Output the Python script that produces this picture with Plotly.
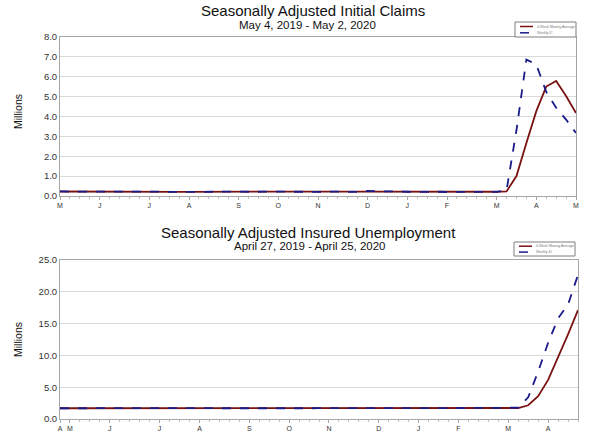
import plotly.graph_objects as go

W, H = 600, 434

# ---------------- data ----------------
ic_ticklabels = ["M", "J", "J", "A", "S", "O", "N", "D", "J", "F", "M", "A", "M"]
ic_tickweeks = [0, 4, 9, 13, 18, 22, 26, 31, 35, 39, 44, 48, 52]

ic_weekly = [0.228, 0.212, 0.211, 0.215, 0.218, 0.222, 0.216, 0.227, 0.221, 0.209,
             0.216, 0.206, 0.215, 0.209, 0.220, 0.210, 0.215, 0.217, 0.204, 0.208,
             0.213, 0.219, 0.210, 0.214, 0.212, 0.218, 0.211, 0.225, 0.227, 0.213,
             0.203, 0.252, 0.234, 0.222, 0.222, 0.214, 0.204, 0.223, 0.216, 0.201,
             0.205, 0.214, 0.219, 0.216, 0.211, 0.282, 3.307, 6.867, 6.615, 5.237,
             4.442, 3.846, 3.169]
ic_ma = [0.226, 0.222, 0.217, 0.216, 0.214, 0.217, 0.218, 0.221, 0.222, 0.218,
         0.218, 0.213, 0.212, 0.212, 0.215, 0.214, 0.214, 0.216, 0.212, 0.211,
         0.211, 0.211, 0.213, 0.214, 0.214, 0.214, 0.214, 0.217, 0.220, 0.219,
         0.217, 0.224, 0.226, 0.228, 0.233, 0.223, 0.216, 0.216, 0.214, 0.211,
         0.211, 0.209, 0.210, 0.214, 0.215, 0.232, 1.003, 2.667, 4.268, 5.507,
         5.790, 5.035, 4.174]

iu_ticklabels = ["A", "M", "J", "J", "A", "S", "O", "N", "D", "J", "F", "M", "A"]
iu_tickweeks = [0, 1, 5, 10, 14, 19, 23, 27, 32, 36, 40, 45, 49]

iu_weekly = [1.69, 1.68, 1.69, 1.68, 1.70, 1.69, 1.70, 1.69, 1.70, 1.71,
             1.69, 1.70, 1.71, 1.70, 1.69, 1.70, 1.69, 1.68, 1.69, 1.68,
             1.69, 1.70, 1.69, 1.70, 1.69, 1.69, 1.70, 1.71, 1.70, 1.69,
             1.70, 1.72, 1.73, 1.72, 1.72, 1.73, 1.74, 1.73, 1.72, 1.71,
             1.72, 1.71, 1.71, 1.70, 1.71, 1.70, 1.78, 3.41, 7.46, 11.98,
             15.82, 18.01, 22.65]
iu_ma = [1.69, 1.69, 1.69, 1.69, 1.69, 1.69, 1.69, 1.70, 1.70, 1.70,
         1.70, 1.70, 1.70, 1.70, 1.70, 1.70, 1.70, 1.69, 1.69, 1.69,
         1.69, 1.69, 1.69, 1.69, 1.69, 1.69, 1.69, 1.70, 1.70, 1.70,
         1.70, 1.70, 1.71, 1.72, 1.72, 1.72, 1.73, 1.73, 1.73, 1.72,
         1.72, 1.72, 1.71, 1.71, 1.71, 1.71, 1.73, 2.16, 3.60, 6.15,
         9.67, 13.32, 17.12]

legend_top = ["4-Week Moving Average", "Weekly IC"]
legend_bottom = ["4-Week Moving Average", "Weekly IU"]

weeks_ic = list(range(len(ic_weekly)))
weeks_iu = list(range(len(iu_weekly)))

SOLID = "#7a1212"
DASH = "#1a1a8a"
FONT = "Liberation Sans, Arial, sans-serif"


def py(p):
    return 1 - p / H


def px(p):
    return p / W


fig = go.Figure()
fig.add_trace(go.Scatter(x=weeks_ic, y=ic_ma, mode="lines", name=legend_top[0],
                         line=dict(color=SOLID, width=1.8), xaxis="x", yaxis="y"))
fig.add_trace(go.Scatter(x=weeks_ic, y=ic_weekly, mode="lines", name=legend_top[1],
                         line=dict(color=DASH, width=1.8, dash="dash"), xaxis="x", yaxis="y"))
fig.add_trace(go.Scatter(x=weeks_iu, y=iu_ma, mode="lines", name=legend_bottom[0],
                         line=dict(color=SOLID, width=1.8), xaxis="x2", yaxis="y2"))
fig.add_trace(go.Scatter(x=weeks_iu, y=iu_weekly, mode="lines", name=legend_bottom[1],
                         line=dict(color=DASH, width=1.8, dash="dash"), xaxis="x2", yaxis="y2"))

axis_common = dict(showline=True, linecolor="#a6a6a6", linewidth=1, mirror=True,
                   zeroline=False)

fig.update_layout(
    width=W, height=H,
    margin=dict(l=0, r=0, t=0, b=0, autoexpand=False),
    showlegend=False,
    paper_bgcolor="white", plot_bgcolor="white",
    font=dict(family=FONT, color="#333333"),
    xaxis=dict(domain=[px(60), px(576)], anchor="y", range=[0, 52],
               tickmode="array", tickvals=ic_tickweeks, ticktext=ic_ticklabels,
               ticks="outside", ticklen=3, tickcolor="#a6a6a6",
               minor=dict(dtick=1, tick0=0, ticks="outside", ticklen=2, tickcolor="#bfbfbf", showgrid=False),
               showgrid=False, tickfont=dict(size=7, color="#333333"), **axis_common),
    yaxis=dict(domain=[py(196), py(37)], anchor="x", range=[0, 8], dtick=1, tickformat=".1f",
               showgrid=True, gridcolor="#d9d9d9", ticks="", tickfont=dict(size=9.5, color="#333333"),
               **axis_common),
    xaxis2=dict(domain=[px(60), px(578)], anchor="y2", range=[0, 52],
                tickmode="array", tickvals=iu_tickweeks, ticktext=iu_ticklabels,
                ticks="outside", ticklen=3, tickcolor="#a6a6a6",
                minor=dict(dtick=1, tick0=0, ticks="outside", ticklen=2, tickcolor="#bfbfbf", showgrid=False),
                showgrid=False, tickfont=dict(size=7, color="#333333"), **axis_common),
    yaxis2=dict(domain=[py(419), py(260)], anchor="x2", range=[0, 25], dtick=5, tickformat=".1f",
                showgrid=True, gridcolor="#d9d9d9", ticks="", tickfont=dict(size=9.5, color="#333333"),
                **axis_common),
)

annos = [
    dict(text="Seasonally Adjusted Initial Claims", x=px(313), y=py(11), size=15),
    dict(text="May 4, 2019 - May 2, 2020", x=px(307), y=py(25), size=11.5),
    dict(text="Seasonally Adjusted Insured Unemployment", x=px(308), y=py(233), size=15),
    dict(text="April 27, 2019 - April 25, 2020", x=px(310), y=py(246), size=11.5),
]
for a in annos:
    fig.add_annotation(text=a["text"], x=a["x"], y=a["y"], xref="paper", yref="paper",
                       showarrow=False, xanchor="center", yanchor="middle",
                       font=dict(size=a["size"], color="#111111", family=FONT))

for yc in (112, 340):
    fig.add_annotation(text="Millions", x=px(18), y=py(yc), xref="paper", yref="paper",
                       showarrow=False, textangle=-90, xanchor="center", yanchor="middle",
                       font=dict(size=10.5, color="#111111", family=FONT))


# ---- hand-drawn small legend boxes (pixel layout) ----
def legend_box(x0, y0, x1, y1, names):
    fig.add_shape(type="rect", xref="paper", yref="paper",
                  x0=px(x0), x1=px(x1), y0=py(y1), y1=py(y0),
                  line=dict(color="#7f7f7f", width=1), fillcolor="white")
    rows = [y0 + (y1 - y0) * 0.3, y0 + (y1 - y0) * 0.72]
    styles = [dict(color=SOLID, width=1.5), dict(color=DASH, width=1.5, dash="dash")]
    for yy, st, nm in zip(rows, styles, names):
        fig.add_shape(type="line", xref="paper", yref="paper",
                      x0=px(x0 + 5), x1=px(x0 + 18), y0=py(yy), y1=py(yy), line=st)
        fig.add_annotation(text=nm, x=px(x0 + 20), y=py(yy), xref="paper", yref="paper",
                           showarrow=False, xanchor="left", yanchor="middle",
                           font=dict(size=3.5, color="#777777", family=FONT))


legend_box(515, 22, 576, 37, legend_top)
legend_box(514, 242, 575, 256, legend_bottom)

fig.write_html("out.html",
               config={"displayModeBar": False},
               post_script="document.body.style.margin='0';document.body.style.padding='0';"
                           "document.documentElement.style.overflow='hidden';")
